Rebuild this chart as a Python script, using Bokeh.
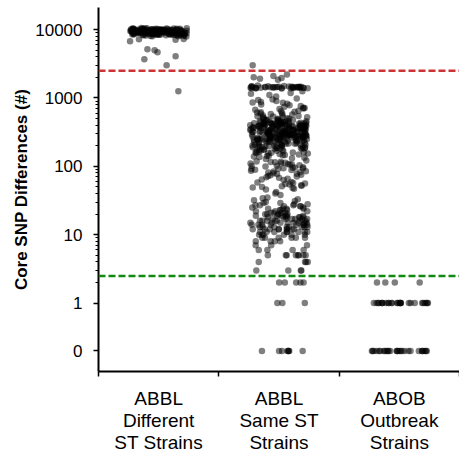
from bokeh.plotting import figure
from bokeh.models import Range1d, FixedTicker, Span, ColumnDataSource
from bokeh.transform import jitter
from bokeh.embed import file_html
from bokeh.resources import INLINE

# ---------------- data ----------------
categories = ["ABBL\nDifferent\nST Strains", "ABBL\nSame ST\nStrains", "ABOB\nOutbreak\nStrains"]

diff_st_strains = [
    9650, 8820, 10120, 9310, 8540, 9980, 9120, 8730, 10250, 9470,
    8390, 9760, 9050, 8910, 10040, 9580, 8620, 9240, 9890, 8460,
    10310, 9370, 8780, 9690, 9150, 8250, 9930, 9520, 8970, 10180,
    9280, 8670, 9810, 9410, 8840, 10070, 9020, 8510, 9620, 9340,
    8120, 9860, 9190, 8750, 10220, 9560, 8930, 9440, 8360, 9720,
    9090, 10350, 8600, 9260, 9950, 8870, 9490, 8180, 9780, 9330,
    10010, 8700, 9170, 9640, 8440, 9890, 9230, 8810, 10140, 9400,
    8560, 9700, 9060, 8950, 10270, 9510, 8290, 9830, 9210, 8770,
    9600, 10090, 8480, 9360, 9940, 8640, 9130, 9740, 8900, 10200,
    9450, 8330, 9670, 9000, 8580, 9910, 9300, 8690, 10060, 9540,
    8410, 9800, 9110, 8850, 10160, 9390, 8220, 9710, 9270, 8990,
    9520, 8060, 10480, 9180, 8650, 9850, 8320, 10390, 9070, 8880,
    9730, 10560, 8150, 9420, 8990, 10020, 7950, 9610, 8710, 10280,
    9350, 8430, 9980, 8570, 10430, 9250, 7880, 9790, 9040, 8790,
    10110, 9480, 8260, 9660, 8920, 10330, 9140, 8520, 9870, 9320,
    8010, 10240, 9590, 8680, 9000, 10410, 9220, 8380, 9760, 8830,
    7300, 7200, 7100, 6750, 5150, 4980, 4660, 4060, 3670, 3000, 1250,
]

same_st_strains = [
    3000, 2200, 2100, 2000, 1950, 1900, 1850,
    1500, 1480, 1460, 1450, 1440, 1430, 1420, 1410, 1400, 1390,
    1380, 1450, 1470, 1430, 1410, 1440, 1460, 1420, 1400, 1480,
    1390, 1430, 1450, 1410, 1370, 1520,
    1410, 1440, 1390, 1460, 1420, 1450, 1400, 1430, 1470, 1380, 1440, 1410,
    1250, 1180, 1100, 1050, 980, 950, 900, 870, 850, 820,
    800, 780, 760, 740, 720, 700, 690, 670, 650, 640,
    630, 620, 610, 600, 1150, 930, 860, 710,
    312, 185, 447, 263, 391, 152, 228, 506, 341, 274,
    199, 418, 287, 163, 362, 241, 475, 318, 207, 389,
    133, 296, 254, 432, 178, 349, 221, 527, 301, 266,
    142, 403, 236, 371, 192, 458, 283, 215, 334, 169,
    394, 247, 122, 308, 442, 276, 189, 356, 231, 495,
    327, 158, 269, 412, 203, 381, 292, 137, 246, 463,
    319, 174, 358, 257, 428, 211, 335, 149, 286, 397,
    238, 541, 304, 195, 372, 262, 128, 446, 223, 315,
    181, 407, 279, 346, 166, 251, 483, 298, 217, 366,
    145, 331, 272, 419, 196, 388, 242, 312, 157, 468,
    289, 226, 352, 184, 437, 265, 323, 139, 401, 258,
    209, 376, 295, 171, 512, 233, 344, 281, 154, 415,
    249, 305, 187, 363, 269, 451, 219, 328, 161, 392,
    277, 131, 339, 244, 423, 198, 309, 385, 255, 176,
    489, 292, 213, 357, 147, 431, 261, 318, 190, 372,
    284, 347, 406, 229, 318, 392, 261, 455, 337, 298,
    376, 243, 421, 309, 271, 359, 432, 287, 248, 398,
    335, 268, 412, 197, 301, 452, 238, 366, 283, 174,
    399, 256, 327, 209, 481, 290, 362, 143, 247, 418,
    313, 186, 377, 264, 438, 225, 342, 159, 296, 405,
    271, 354, 201, 463, 318, 237, 389, 168, 282, 426,
    345, 213, 307, 479, 252, 371, 190, 336, 427, 276,
    232, 384, 297, 155, 349, 441, 262, 323, 206, 394,
    287, 367, 179, 415, 245, 331, 470, 273, 219, 358,
    302, 435, 194, 381, 259, 340, 160, 293, 403, 227,
    520, 574, 590, 535, 566, 498, 553, 582, 517, 545,
    311, 244, 386, 279, 352, 203, 429, 268, 321, 185,
    118, 96, 84, 107, 72, 113, 91, 66, 102, 88,
    79, 115, 94, 69, 110, 82, 99, 75, 105, 63,
    92, 117, 86, 71, 101, 78, 111, 95, 64, 89,
    104, 74, 97, 81, 116, 68, 93, 108, 77, 85,
    58, 52, 47, 55, 49, 57, 53, 46, 59, 51, 56, 48, 54, 50,
    42, 40,
    34, 21, 15, 27, 12, 18, 31, 9, 24, 14,
    19, 11, 29, 16, 22, 8, 13, 26, 17, 10,
    33, 20, 12, 15, 25, 9, 18, 14, 28, 11,
    23, 16, 13, 30, 19, 10, 21, 15, 12, 17,
    8, 26, 14, 20, 11, 32, 16, 13, 22, 18,
    9, 15, 24, 12, 19, 10, 27, 14, 17, 11,
    21, 13, 16, 8, 25, 12, 18, 15, 10, 20,
    14, 29, 11, 17, 13, 23, 9, 16, 12, 19,
    13, 18, 11, 24, 15, 9, 20, 16, 12, 27,
    14, 10, 19, 22, 17, 13, 35, 11, 15, 21,
    8, 18, 12, 26, 14, 16, 10, 23, 19, 13,
    38, 17, 12, 28, 15, 9, 20, 14, 11, 24,
    7, 6, 7, 6, 5, 5, 5, 5, 5, 5, 5, 6, 7, 6, 5,
    4, 4, 4, 4, 3, 3, 3, 3,
    2, 2, 2, 2, 2,
    1, 1, 1,
    0, 0, 0, 0, 0, 0, 0, 0,
]

outbreak_strains = [
    2, 2, 2, 2,
    1, 1, 1, 1, 1, 1, 1, 1, 1, 1, 1, 1, 1, 1,
    1, 1, 1, 1, 1, 1, 1, 1, 1, 1, 1, 1, 1, 1,
    0, 0, 0, 0, 0, 0, 0, 0, 0, 0, 0, 0, 0, 0,
    0, 0, 0, 0, 0, 0, 0, 0, 0, 0, 0, 0, 0, 0,
]

red_threshold = 2500
green_threshold = 2.5

y_tick_values = [0, 1, 10, 100, 1000, 10000]
y_tick_labels = ["0", "1", "10", "100", "1000", "10000"]
y_title = "Core SNP Differences (#)"

# ---------------- layout ----------------
ZERO_AT = 0.2  # where a value of 0 is drawn on the log axis
FONT = "Liberation Sans"

groups = [diff_st_strains, same_st_strains, outbreak_strains]
xs, ys = [], []
for i, vals in enumerate(groups):
    for v in vals:
        xs.append(i + 0.5)
        ys.append(v if v > 0 else ZERO_AT)
src = ColumnDataSource(dict(x=xs, y=ys))

p = figure(width=459, height=456, y_axis_type="log",
           x_range=Range1d(0, 3), y_range=Range1d(0.1, 21000),
           output_backend="svg", toolbar_location=None,
           min_border_left=98, min_border_right=0,
           min_border_top=7, min_border_bottom=84)
p.outline_line_color = None
p.xgrid.visible = False
p.ygrid.visible = False
p.background_fill_color = "white"
p.border_fill_color = "white"

p.scatter(x=jitter("x", width=0.48, distribution="uniform"), y="y", source=src,
          size=6.5, fill_color="black", fill_alpha=0.5, line_color=None)

p.add_layout(Span(location=red_threshold, dimension="width", line_color="#cc3333",
                  line_dash="7 3", line_width=2.5))
p.add_layout(Span(location=green_threshold, dimension="width", line_color="#128a12",
                  line_dash="7 3", line_width=2.5))

# x axis
xa = p.xaxis[0]
xa.ticker = FixedTicker(ticks=[0.5, 1.5, 2.5], minor_ticks=[0, 1, 2, 3])
xa.major_label_overrides = {i + 0.5: c for i, c in enumerate(categories)}
xa.major_tick_out = 0
xa.major_tick_in = 0
xa.minor_tick_out = 5
xa.minor_tick_in = 0
xa.axis_line_width = 2
xa.axis_line_color = "black"
xa.minor_tick_line_width = 1.5
xa.minor_tick_line_color = "black"
xa.major_label_text_font = FONT
xa.major_label_text_font_size = "19px"
xa.major_label_text_color = "black"
xa.major_label_text_line_height = 1.07
xa.major_label_standoff = 11

# y axis
ya = p.yaxis[0]
minor = [k * 10 ** d for d in range(0, 4) for k in range(2, 10)]
ya.ticker = FixedTicker(ticks=[v if v > 0 else ZERO_AT for v in y_tick_values], minor_ticks=minor)
ya.major_label_overrides = {(v if v > 0 else ZERO_AT): lab for v, lab in zip(y_tick_values, y_tick_labels)}
ya.major_tick_out = 5
ya.major_tick_in = 0
ya.minor_tick_out = 3
ya.minor_tick_in = 0
ya.axis_line_width = 2
ya.axis_line_color = "black"
ya.major_tick_line_width = 1.5
ya.minor_tick_line_width = 1.2
ya.major_tick_line_color = "black"
ya.minor_tick_line_color = "black"
ya.major_label_text_font = FONT
ya.major_label_text_font_size = "17px"
ya.major_label_text_color = "black"
ya.major_label_standoff = 11
ya.axis_label = y_title
ya.axis_label_text_font = FONT
ya.axis_label_text_font_size = "17px"
ya.axis_label_text_font_style = "bold"
ya.axis_label_text_color = "black"
ya.axis_label_standoff = 1

open("out.html", "w").write(file_html(p, INLINE))
